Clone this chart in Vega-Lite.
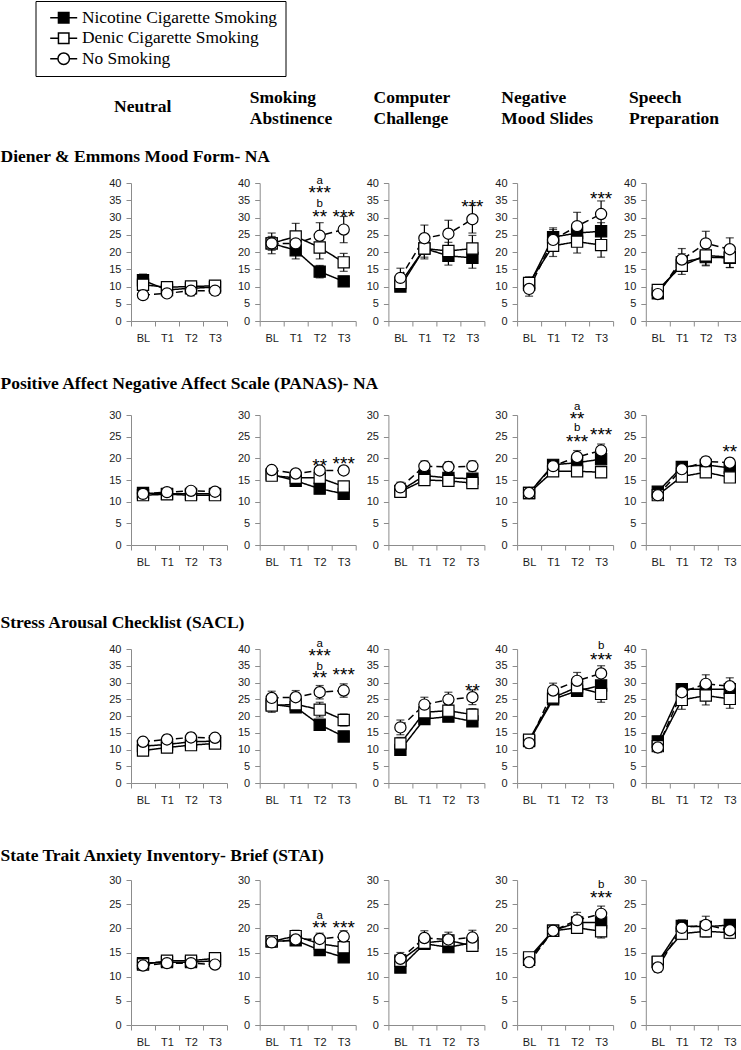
{
"$schema": "https://vega.github.io/schema/vega-lite/v6.json",
"background": "white",
"padding": 0,
"spacing": 10,
"resolve": {"scale": {"shape": "independent", "fill": "independent", "strokeDash": "independent", "stroke": "independent"}},
"config": {
 "view": {"stroke": null},
 "axis": {"labelFont": "Liberation Sans", "labelFontSize": 11, "labelColor": "#1a1a1a", "domainColor": "#8c8c8c", "tickColor": "#8c8c8c", "tickSize": 5, "labelPadding": 5, "grid": false},
 "title": {"font": "Liberation Serif", "fontSize": 17.5, "fontWeight": "bold", "color": "black", "anchor": "start"},
 "text": {"font": "Liberation Sans", "color": "black"}
},
"datasets": {"d": [
{"m":"DE","c":"N","t":"BL","s":"Nicotine Cigarette Smoking","v":11.8,"e":1.8},
{"m":"DE","c":"N","t":"T1","s":"Nicotine Cigarette Smoking","v":9.0,"e":1.3},
{"m":"DE","c":"N","t":"T2","s":"Nicotine Cigarette Smoking","v":9.5,"e":1.3},
{"m":"DE","c":"N","t":"T3","s":"Nicotine Cigarette Smoking","v":9.8,"e":1.5},
{"m":"DE","c":"N","t":"BL","s":"Denic Cigarette Smoking","v":10.5,"e":1.8},
{"m":"DE","c":"N","t":"T1","s":"Denic Cigarette Smoking","v":9.8,"e":1.3},
{"m":"DE","c":"N","t":"T2","s":"Denic Cigarette Smoking","v":10.0,"e":1.2},
{"m":"DE","c":"N","t":"T3","s":"Denic Cigarette Smoking","v":10.2,"e":1.5},
{"m":"DE","c":"N","t":"BL","s":"No Smoking","v":7.5,"e":1.0},
{"m":"DE","c":"N","t":"T1","s":"No Smoking","v":8.0,"e":1.0},
{"m":"DE","c":"N","t":"T2","s":"No Smoking","v":8.8,"e":1.5},
{"m":"DE","c":"N","t":"T3","s":"No Smoking","v":8.8,"e":1.3},
{"m":"DE","c":"SA","t":"BL","s":"Nicotine Cigarette Smoking","v":22.5,"e":1.5},
{"m":"DE","c":"SA","t":"T1","s":"Nicotine Cigarette Smoking","v":20.5,"e":2.5},
{"m":"DE","c":"SA","t":"T2","s":"Nicotine Cigarette Smoking","v":14.3,"e":1.8},
{"m":"DE","c":"SA","t":"T3","s":"Nicotine Cigarette Smoking","v":11.5,"e":1.0},
{"m":"DE","c":"SA","t":"BL","s":"Denic Cigarette Smoking","v":22.5,"e":2.0},
{"m":"DE","c":"SA","t":"T1","s":"Denic Cigarette Smoking","v":24.5,"e":3.8},
{"m":"DE","c":"SA","t":"T2","s":"Denic Cigarette Smoking","v":21.3,"e":3.3},
{"m":"DE","c":"SA","t":"T3","s":"Denic Cigarette Smoking","v":17.0,"e":2.6},
{"m":"DE","c":"SA","t":"BL","s":"No Smoking","v":22.5,"e":3.0},
{"m":"DE","c":"SA","t":"T1","s":"No Smoking","v":22.5,"e":2.5},
{"m":"DE","c":"SA","t":"T2","s":"No Smoking","v":24.7,"e":3.8},
{"m":"DE","c":"SA","t":"T3","s":"No Smoking","v":26.5,"e":3.8},
{"m":"DE","c":"CC","t":"BL","s":"Nicotine Cigarette Smoking","v":10.0,"e":1.2},
{"m":"DE","c":"CC","t":"T1","s":"Nicotine Cigarette Smoking","v":21.0,"e":2.5},
{"m":"DE","c":"CC","t":"T2","s":"Nicotine Cigarette Smoking","v":18.9,"e":2.7},
{"m":"DE","c":"CC","t":"T3","s":"Nicotine Cigarette Smoking","v":18.3,"e":3.0},
{"m":"DE","c":"CC","t":"BL","s":"Denic Cigarette Smoking","v":11.0,"e":1.5},
{"m":"DE","c":"CC","t":"T1","s":"Denic Cigarette Smoking","v":21.0,"e":3.0},
{"m":"DE","c":"CC","t":"T2","s":"Denic Cigarette Smoking","v":20.3,"e":2.5},
{"m":"DE","c":"CC","t":"T3","s":"Denic Cigarette Smoking","v":21.0,"e":3.8},
{"m":"DE","c":"CC","t":"BL","s":"No Smoking","v":12.5,"e":2.8},
{"m":"DE","c":"CC","t":"T1","s":"No Smoking","v":24.0,"e":3.8},
{"m":"DE","c":"CC","t":"T2","s":"No Smoking","v":25.3,"e":3.9},
{"m":"DE","c":"CC","t":"T3","s":"No Smoking","v":29.5,"e":4.0},
{"m":"DE","c":"NM","t":"BL","s":"Nicotine Cigarette Smoking","v":10.5,"e":1.5},
{"m":"DE","c":"NM","t":"T1","s":"Nicotine Cigarette Smoking","v":24.3,"e":2.7},
{"m":"DE","c":"NM","t":"T2","s":"Nicotine Cigarette Smoking","v":25.5,"e":3.0},
{"m":"DE","c":"NM","t":"T3","s":"Nicotine Cigarette Smoking","v":26.0,"e":2.5},
{"m":"DE","c":"NM","t":"BL","s":"Denic Cigarette Smoking","v":11.0,"e":1.8},
{"m":"DE","c":"NM","t":"T1","s":"Denic Cigarette Smoking","v":21.8,"e":3.1},
{"m":"DE","c":"NM","t":"T2","s":"Denic Cigarette Smoking","v":23.0,"e":3.3},
{"m":"DE","c":"NM","t":"T3","s":"Denic Cigarette Smoking","v":22.0,"e":3.5},
{"m":"DE","c":"NM","t":"BL","s":"No Smoking","v":9.3,"e":2.1},
{"m":"DE","c":"NM","t":"T1","s":"No Smoking","v":23.5,"e":3.0},
{"m":"DE","c":"NM","t":"T2","s":"No Smoking","v":27.5,"e":4.0},
{"m":"DE","c":"NM","t":"T3","s":"No Smoking","v":31.0,"e":3.8},
{"m":"DE","c":"SP","t":"BL","s":"Nicotine Cigarette Smoking","v":8.0,"e":1.0},
{"m":"DE","c":"SP","t":"T1","s":"Nicotine Cigarette Smoking","v":17.0,"e":2.5},
{"m":"DE","c":"SP","t":"T2","s":"Nicotine Cigarette Smoking","v":18.5,"e":2.5},
{"m":"DE","c":"SP","t":"T3","s":"Nicotine Cigarette Smoking","v":18.3,"e":2.8},
{"m":"DE","c":"SP","t":"BL","s":"Denic Cigarette Smoking","v":9.0,"e":1.0},
{"m":"DE","c":"SP","t":"T1","s":"Denic Cigarette Smoking","v":16.0,"e":2.5},
{"m":"DE","c":"SP","t":"T2","s":"Denic Cigarette Smoking","v":19.0,"e":2.8},
{"m":"DE","c":"SP","t":"T3","s":"Denic Cigarette Smoking","v":18.5,"e":3.0},
{"m":"DE","c":"SP","t":"BL","s":"No Smoking","v":7.8,"e":1.0},
{"m":"DE","c":"SP","t":"T1","s":"No Smoking","v":17.8,"e":3.2},
{"m":"DE","c":"SP","t":"T2","s":"No Smoking","v":22.5,"e":3.5},
{"m":"DE","c":"SP","t":"T3","s":"No Smoking","v":20.8,"e":3.3},
{"m":"PA","c":"N","t":"BL","s":"Nicotine Cigarette Smoking","v":12.0,"e":0.7},
{"m":"PA","c":"N","t":"T1","s":"Nicotine Cigarette Smoking","v":11.8,"e":0.7},
{"m":"PA","c":"N","t":"T2","s":"Nicotine Cigarette Smoking","v":11.8,"e":0.7},
{"m":"PA","c":"N","t":"T3","s":"Nicotine Cigarette Smoking","v":11.8,"e":0.7},
{"m":"PA","c":"N","t":"BL","s":"Denic Cigarette Smoking","v":11.5,"e":0.6},
{"m":"PA","c":"N","t":"T1","s":"Denic Cigarette Smoking","v":11.7,"e":0.6},
{"m":"PA","c":"N","t":"T2","s":"Denic Cigarette Smoking","v":11.5,"e":0.6},
{"m":"PA","c":"N","t":"T3","s":"Denic Cigarette Smoking","v":11.5,"e":0.6},
{"m":"PA","c":"N","t":"BL","s":"No Smoking","v":11.8,"e":0.6},
{"m":"PA","c":"N","t":"T1","s":"No Smoking","v":12.2,"e":0.6},
{"m":"PA","c":"N","t":"T2","s":"No Smoking","v":12.5,"e":0.6},
{"m":"PA","c":"N","t":"T3","s":"No Smoking","v":12.3,"e":0.6},
{"m":"PA","c":"SA","t":"BL","s":"Nicotine Cigarette Smoking","v":16.3,"e":0.8},
{"m":"PA","c":"SA","t":"T1","s":"Nicotine Cigarette Smoking","v":14.8,"e":0.8},
{"m":"PA","c":"SA","t":"T2","s":"Nicotine Cigarette Smoking","v":13.0,"e":0.8},
{"m":"PA","c":"SA","t":"T3","s":"Nicotine Cigarette Smoking","v":11.8,"e":0.8},
{"m":"PA","c":"SA","t":"BL","s":"Denic Cigarette Smoking","v":16.0,"e":1.0},
{"m":"PA","c":"SA","t":"T1","s":"Denic Cigarette Smoking","v":15.5,"e":1.0},
{"m":"PA","c":"SA","t":"T2","s":"Denic Cigarette Smoking","v":15.5,"e":1.0},
{"m":"PA","c":"SA","t":"T3","s":"Denic Cigarette Smoking","v":13.5,"e":1.0},
{"m":"PA","c":"SA","t":"BL","s":"No Smoking","v":17.3,"e":0.9},
{"m":"PA","c":"SA","t":"T1","s":"No Smoking","v":16.5,"e":0.9},
{"m":"PA","c":"SA","t":"T2","s":"No Smoking","v":17.2,"e":0.9},
{"m":"PA","c":"SA","t":"T3","s":"No Smoking","v":17.2,"e":0.9},
{"m":"PA","c":"CC","t":"BL","s":"Nicotine Cigarette Smoking","v":12.5,"e":1.0},
{"m":"PA","c":"CC","t":"T1","s":"Nicotine Cigarette Smoking","v":16.0,"e":1.0},
{"m":"PA","c":"CC","t":"T2","s":"Nicotine Cigarette Smoking","v":15.5,"e":1.0},
{"m":"PA","c":"CC","t":"T3","s":"Nicotine Cigarette Smoking","v":15.3,"e":1.0},
{"m":"PA","c":"CC","t":"BL","s":"Denic Cigarette Smoking","v":12.3,"e":1.0},
{"m":"PA","c":"CC","t":"T1","s":"Denic Cigarette Smoking","v":15.0,"e":1.0},
{"m":"PA","c":"CC","t":"T2","s":"Denic Cigarette Smoking","v":14.8,"e":1.0},
{"m":"PA","c":"CC","t":"T3","s":"Denic Cigarette Smoking","v":14.3,"e":1.0},
{"m":"PA","c":"CC","t":"BL","s":"No Smoking","v":13.3,"e":1.2},
{"m":"PA","c":"CC","t":"T1","s":"No Smoking","v":18.2,"e":1.2},
{"m":"PA","c":"CC","t":"T2","s":"No Smoking","v":18.0,"e":1.2},
{"m":"PA","c":"CC","t":"T3","s":"No Smoking","v":18.2,"e":1.2},
{"m":"PA","c":"NM","t":"BL","s":"Nicotine Cigarette Smoking","v":12.0,"e":1.0},
{"m":"PA","c":"NM","t":"T1","s":"Nicotine Cigarette Smoking","v":18.5,"e":1.0},
{"m":"PA","c":"NM","t":"T2","s":"Nicotine Cigarette Smoking","v":19.0,"e":1.0},
{"m":"PA","c":"NM","t":"T3","s":"Nicotine Cigarette Smoking","v":19.8,"e":1.0},
{"m":"PA","c":"NM","t":"BL","s":"Denic Cigarette Smoking","v":12.0,"e":1.0},
{"m":"PA","c":"NM","t":"T1","s":"Denic Cigarette Smoking","v":17.0,"e":1.0},
{"m":"PA","c":"NM","t":"T2","s":"Denic Cigarette Smoking","v":17.0,"e":1.0},
{"m":"PA","c":"NM","t":"T3","s":"Denic Cigarette Smoking","v":16.8,"e":1.0},
{"m":"PA","c":"NM","t":"BL","s":"No Smoking","v":12.0,"e":1.0},
{"m":"PA","c":"NM","t":"T1","s":"No Smoking","v":18.2,"e":1.2},
{"m":"PA","c":"NM","t":"T2","s":"No Smoking","v":20.3,"e":1.5},
{"m":"PA","c":"NM","t":"T3","s":"No Smoking","v":21.8,"e":1.5},
{"m":"PA","c":"SP","t":"BL","s":"Nicotine Cigarette Smoking","v":12.3,"e":1.0},
{"m":"PA","c":"SP","t":"T1","s":"Nicotine Cigarette Smoking","v":18.0,"e":1.0},
{"m":"PA","c":"SP","t":"T2","s":"Nicotine Cigarette Smoking","v":18.5,"e":1.0},
{"m":"PA","c":"SP","t":"T3","s":"Nicotine Cigarette Smoking","v":17.8,"e":1.0},
{"m":"PA","c":"SP","t":"BL","s":"Denic Cigarette Smoking","v":11.5,"e":1.0},
{"m":"PA","c":"SP","t":"T1","s":"Denic Cigarette Smoking","v":15.8,"e":1.0},
{"m":"PA","c":"SP","t":"T2","s":"Denic Cigarette Smoking","v":16.8,"e":1.0},
{"m":"PA","c":"SP","t":"T3","s":"Denic Cigarette Smoking","v":15.6,"e":1.0},
{"m":"PA","c":"SP","t":"BL","s":"No Smoking","v":11.5,"e":1.0},
{"m":"PA","c":"SP","t":"T1","s":"No Smoking","v":17.5,"e":1.0},
{"m":"PA","c":"SP","t":"T2","s":"No Smoking","v":19.3,"e":1.0},
{"m":"PA","c":"SP","t":"T3","s":"No Smoking","v":19.0,"e":1.0},
{"m":"SC","c":"N","t":"BL","s":"Nicotine Cigarette Smoking","v":11.0,"e":1.3},
{"m":"SC","c":"N","t":"T1","s":"Nicotine Cigarette Smoking","v":11.5,"e":1.3},
{"m":"SC","c":"N","t":"T2","s":"Nicotine Cigarette Smoking","v":12.3,"e":1.3},
{"m":"SC","c":"N","t":"T3","s":"Nicotine Cigarette Smoking","v":12.5,"e":1.3},
{"m":"SC","c":"N","t":"BL","s":"Denic Cigarette Smoking","v":9.7,"e":1.3},
{"m":"SC","c":"N","t":"T1","s":"Denic Cigarette Smoking","v":10.6,"e":1.3},
{"m":"SC","c":"N","t":"T2","s":"Denic Cigarette Smoking","v":11.3,"e":1.3},
{"m":"SC","c":"N","t":"T3","s":"Denic Cigarette Smoking","v":11.8,"e":1.3},
{"m":"SC","c":"N","t":"BL","s":"No Smoking","v":12.3,"e":1.3},
{"m":"SC","c":"N","t":"T1","s":"No Smoking","v":13.0,"e":1.3},
{"m":"SC","c":"N","t":"T2","s":"No Smoking","v":13.6,"e":1.3},
{"m":"SC","c":"N","t":"T3","s":"No Smoking","v":13.5,"e":1.3},
{"m":"SC","c":"SA","t":"BL","s":"Nicotine Cigarette Smoking","v":23.5,"e":1.2},
{"m":"SC","c":"SA","t":"T1","s":"Nicotine Cigarette Smoking","v":22.6,"e":1.2},
{"m":"SC","c":"SA","t":"T2","s":"Nicotine Cigarette Smoking","v":17.4,"e":1.2},
{"m":"SC","c":"SA","t":"T3","s":"Nicotine Cigarette Smoking","v":13.9,"e":1.2},
{"m":"SC","c":"SA","t":"BL","s":"Denic Cigarette Smoking","v":23.1,"e":2.0},
{"m":"SC","c":"SA","t":"T1","s":"Denic Cigarette Smoking","v":23.5,"e":2.0},
{"m":"SC","c":"SA","t":"T2","s":"Denic Cigarette Smoking","v":21.9,"e":2.2},
{"m":"SC","c":"SA","t":"T3","s":"Denic Cigarette Smoking","v":18.8,"e":1.8},
{"m":"SC","c":"SA","t":"BL","s":"No Smoking","v":25.4,"e":2.0},
{"m":"SC","c":"SA","t":"T1","s":"No Smoking","v":25.6,"e":2.0},
{"m":"SC","c":"SA","t":"T2","s":"No Smoking","v":27.1,"e":2.0},
{"m":"SC","c":"SA","t":"T3","s":"No Smoking","v":27.6,"e":2.0},
{"m":"SC","c":"CC","t":"BL","s":"Nicotine Cigarette Smoking","v":9.9,"e":1.2},
{"m":"SC","c":"CC","t":"T1","s":"Nicotine Cigarette Smoking","v":19.1,"e":1.2},
{"m":"SC","c":"CC","t":"T2","s":"Nicotine Cigarette Smoking","v":19.8,"e":1.2},
{"m":"SC","c":"CC","t":"T3","s":"Nicotine Cigarette Smoking","v":18.4,"e":1.4},
{"m":"SC","c":"CC","t":"BL","s":"Denic Cigarette Smoking","v":11.8,"e":1.8},
{"m":"SC","c":"CC","t":"T1","s":"Denic Cigarette Smoking","v":21.1,"e":1.8},
{"m":"SC","c":"CC","t":"T2","s":"Denic Cigarette Smoking","v":21.6,"e":1.8},
{"m":"SC","c":"CC","t":"T3","s":"Denic Cigarette Smoking","v":20.4,"e":1.8},
{"m":"SC","c":"CC","t":"BL","s":"No Smoking","v":16.6,"e":2.2},
{"m":"SC","c":"CC","t":"T1","s":"No Smoking","v":23.4,"e":2.2},
{"m":"SC","c":"CC","t":"T2","s":"No Smoking","v":24.9,"e":2.2},
{"m":"SC","c":"CC","t":"T3","s":"No Smoking","v":25.6,"e":2.2},
{"m":"SC","c":"NM","t":"BL","s":"Nicotine Cigarette Smoking","v":12.5,"e":1.5},
{"m":"SC","c":"NM","t":"T1","s":"Nicotine Cigarette Smoking","v":25.0,"e":1.5},
{"m":"SC","c":"NM","t":"T2","s":"Nicotine Cigarette Smoking","v":27.5,"e":1.5},
{"m":"SC","c":"NM","t":"T3","s":"Nicotine Cigarette Smoking","v":29.1,"e":1.5},
{"m":"SC","c":"NM","t":"BL","s":"Denic Cigarette Smoking","v":12.9,"e":1.5},
{"m":"SC","c":"NM","t":"T1","s":"Denic Cigarette Smoking","v":25.5,"e":1.8},
{"m":"SC","c":"NM","t":"T2","s":"Denic Cigarette Smoking","v":28.6,"e":2.5},
{"m":"SC","c":"NM","t":"T3","s":"Denic Cigarette Smoking","v":26.6,"e":2.5},
{"m":"SC","c":"NM","t":"BL","s":"No Smoking","v":11.9,"e":1.5},
{"m":"SC","c":"NM","t":"T1","s":"No Smoking","v":27.6,"e":2.2},
{"m":"SC","c":"NM","t":"T2","s":"No Smoking","v":30.5,"e":2.5},
{"m":"SC","c":"NM","t":"T3","s":"No Smoking","v":32.7,"e":2.3},
{"m":"SC","c":"SP","t":"BL","s":"Nicotine Cigarette Smoking","v":12.4,"e":1.5},
{"m":"SC","c":"SP","t":"T1","s":"Nicotine Cigarette Smoking","v":28.0,"e":1.5},
{"m":"SC","c":"SP","t":"T2","s":"Nicotine Cigarette Smoking","v":28.0,"e":1.8},
{"m":"SC","c":"SP","t":"T3","s":"Nicotine Cigarette Smoking","v":28.0,"e":1.8},
{"m":"SC","c":"SP","t":"BL","s":"Denic Cigarette Smoking","v":11.0,"e":1.5},
{"m":"SC","c":"SP","t":"T1","s":"Denic Cigarette Smoking","v":24.8,"e":2.8},
{"m":"SC","c":"SP","t":"T2","s":"Denic Cigarette Smoking","v":26.1,"e":2.8},
{"m":"SC","c":"SP","t":"T3","s":"Denic Cigarette Smoking","v":25.1,"e":2.8},
{"m":"SC","c":"SP","t":"BL","s":"No Smoking","v":10.6,"e":1.5},
{"m":"SC","c":"SP","t":"T1","s":"No Smoking","v":27.1,"e":2.5},
{"m":"SC","c":"SP","t":"T2","s":"No Smoking","v":29.6,"e":2.7},
{"m":"SC","c":"SP","t":"T3","s":"No Smoking","v":28.9,"e":2.5},
{"m":"ST","c":"N","t":"BL","s":"Nicotine Cigarette Smoking","v":12.8,"e":0.7},
{"m":"ST","c":"N","t":"T1","s":"Nicotine Cigarette Smoking","v":13.0,"e":0.7},
{"m":"ST","c":"N","t":"T2","s":"Nicotine Cigarette Smoking","v":13.0,"e":0.7},
{"m":"ST","c":"N","t":"T3","s":"Nicotine Cigarette Smoking","v":13.3,"e":0.7},
{"m":"ST","c":"N","t":"BL","s":"Denic Cigarette Smoking","v":12.5,"e":0.7},
{"m":"ST","c":"N","t":"T1","s":"Denic Cigarette Smoking","v":13.3,"e":0.7},
{"m":"ST","c":"N","t":"T2","s":"Denic Cigarette Smoking","v":13.3,"e":0.7},
{"m":"ST","c":"N","t":"T3","s":"Denic Cigarette Smoking","v":13.8,"e":0.7},
{"m":"ST","c":"N","t":"BL","s":"No Smoking","v":12.3,"e":0.7},
{"m":"ST","c":"N","t":"T1","s":"No Smoking","v":12.8,"e":0.7},
{"m":"ST","c":"N","t":"T2","s":"No Smoking","v":12.8,"e":0.7},
{"m":"ST","c":"N","t":"T3","s":"No Smoking","v":12.5,"e":0.7},
{"m":"ST","c":"SA","t":"BL","s":"Nicotine Cigarette Smoking","v":17.3,"e":0.8},
{"m":"ST","c":"SA","t":"T1","s":"Nicotine Cigarette Smoking","v":17.5,"e":0.8},
{"m":"ST","c":"SA","t":"T2","s":"Nicotine Cigarette Smoking","v":15.5,"e":0.8},
{"m":"ST","c":"SA","t":"T3","s":"Nicotine Cigarette Smoking","v":14.0,"e":0.8},
{"m":"ST","c":"SA","t":"BL","s":"Denic Cigarette Smoking","v":17.3,"e":1.0},
{"m":"ST","c":"SA","t":"T1","s":"Denic Cigarette Smoking","v":18.4,"e":1.2},
{"m":"ST","c":"SA","t":"T2","s":"Denic Cigarette Smoking","v":16.8,"e":1.2},
{"m":"ST","c":"SA","t":"T3","s":"Denic Cigarette Smoking","v":16.1,"e":1.2},
{"m":"ST","c":"SA","t":"BL","s":"No Smoking","v":17.1,"e":1.0},
{"m":"ST","c":"SA","t":"T1","s":"No Smoking","v":17.7,"e":1.2},
{"m":"ST","c":"SA","t":"T2","s":"No Smoking","v":17.8,"e":1.2},
{"m":"ST","c":"SA","t":"T3","s":"No Smoking","v":18.3,"e":1.2},
{"m":"ST","c":"CC","t":"BL","s":"Nicotine Cigarette Smoking","v":11.9,"e":0.8},
{"m":"ST","c":"CC","t":"T1","s":"Nicotine Cigarette Smoking","v":16.8,"e":0.8},
{"m":"ST","c":"CC","t":"T2","s":"Nicotine Cigarette Smoking","v":16.1,"e":0.8},
{"m":"ST","c":"CC","t":"T3","s":"Nicotine Cigarette Smoking","v":17.0,"e":0.8},
{"m":"ST","c":"CC","t":"BL","s":"Denic Cigarette Smoking","v":13.3,"e":1.0},
{"m":"ST","c":"CC","t":"T1","s":"Denic Cigarette Smoking","v":17.0,"e":1.0},
{"m":"ST","c":"CC","t":"T2","s":"Denic Cigarette Smoking","v":17.5,"e":1.0},
{"m":"ST","c":"CC","t":"T3","s":"Denic Cigarette Smoking","v":16.4,"e":1.0},
{"m":"ST","c":"CC","t":"BL","s":"No Smoking","v":13.7,"e":1.3},
{"m":"ST","c":"CC","t":"T1","s":"No Smoking","v":18.0,"e":1.5},
{"m":"ST","c":"CC","t":"T2","s":"No Smoking","v":17.7,"e":1.5},
{"m":"ST","c":"CC","t":"T3","s":"No Smoking","v":18.1,"e":1.5},
{"m":"ST","c":"NM","t":"BL","s":"Nicotine Cigarette Smoking","v":13.5,"e":1.0},
{"m":"ST","c":"NM","t":"T1","s":"Nicotine Cigarette Smoking","v":19.5,"e":1.0},
{"m":"ST","c":"NM","t":"T2","s":"Nicotine Cigarette Smoking","v":21.2,"e":1.0},
{"m":"ST","c":"NM","t":"T3","s":"Nicotine Cigarette Smoking","v":21.2,"e":1.0},
{"m":"ST","c":"NM","t":"BL","s":"Denic Cigarette Smoking","v":14.0,"e":1.0},
{"m":"ST","c":"NM","t":"T1","s":"Denic Cigarette Smoking","v":19.5,"e":1.0},
{"m":"ST","c":"NM","t":"T2","s":"Denic Cigarette Smoking","v":20.1,"e":1.0},
{"m":"ST","c":"NM","t":"T3","s":"Denic Cigarette Smoking","v":19.4,"e":1.4},
{"m":"ST","c":"NM","t":"BL","s":"No Smoking","v":13.0,"e":1.0},
{"m":"ST","c":"NM","t":"T1","s":"No Smoking","v":19.5,"e":1.0},
{"m":"ST","c":"NM","t":"T2","s":"No Smoking","v":21.7,"e":1.6},
{"m":"ST","c":"NM","t":"T3","s":"No Smoking","v":23.0,"e":1.6},
{"m":"ST","c":"SP","t":"BL","s":"Nicotine Cigarette Smoking","v":13.0,"e":1.0},
{"m":"ST","c":"SP","t":"T1","s":"Nicotine Cigarette Smoking","v":20.5,"e":1.2},
{"m":"ST","c":"SP","t":"T2","s":"Nicotine Cigarette Smoking","v":20.3,"e":1.2},
{"m":"ST","c":"SP","t":"T3","s":"Nicotine Cigarette Smoking","v":20.7,"e":1.0},
{"m":"ST","c":"SP","t":"BL","s":"Denic Cigarette Smoking","v":13.1,"e":1.0},
{"m":"ST","c":"SP","t":"T1","s":"Denic Cigarette Smoking","v":18.9,"e":1.2},
{"m":"ST","c":"SP","t":"T2","s":"Denic Cigarette Smoking","v":19.4,"e":1.2},
{"m":"ST","c":"SP","t":"T3","s":"Denic Cigarette Smoking","v":19.1,"e":1.2},
{"m":"ST","c":"SP","t":"BL","s":"No Smoking","v":11.9,"e":1.0},
{"m":"ST","c":"SP","t":"T1","s":"No Smoking","v":20.1,"e":1.6},
{"m":"ST","c":"SP","t":"T2","s":"No Smoking","v":20.7,"e":1.8},
{"m":"ST","c":"SP","t":"T3","s":"No Smoking","v":19.6,"e":1.6},
{"m":"DE","c":"SA","t":"T2","a":"a","ay":40.6},
{"m":"DE","c":"SA","t":"T2","a":"***","ay":38.3},
{"m":"DE","c":"SA","t":"T2","a":"b","ay":34.0},
{"m":"DE","c":"SA","t":"T2","a":"**","ay":31.3},
{"m":"DE","c":"SA","t":"T3","a":"***","ay":31.3},
{"m":"DE","c":"CC","t":"T3","a":"***","ay":34.3},
{"m":"DE","c":"NM","t":"T3","a":"***","ay":36.6},
{"m":"PA","c":"SA","t":"T2","a":"**","ay":19.1},
{"m":"PA","c":"SA","t":"T3","a":"***","ay":19.6},
{"m":"PA","c":"NM","t":"T2","a":"a","ay":31.8},
{"m":"PA","c":"NM","t":"T2","a":"**","ay":30.0},
{"m":"PA","c":"NM","t":"T2","a":"b","ay":26.9},
{"m":"PA","c":"NM","t":"T2","a":"***","ay":24.8},
{"m":"PA","c":"NM","t":"T3","a":"***","ay":26.3},
{"m":"PA","c":"SP","t":"T3","a":"**","ay":22.5},
{"m":"SC","c":"SA","t":"T2","a":"a","ay":41.5},
{"m":"SC","c":"SA","t":"T2","a":"***","ay":39.0},
{"m":"SC","c":"SA","t":"T2","a":"b","ay":34.7},
{"m":"SC","c":"SA","t":"T2","a":"**","ay":32.5},
{"m":"SC","c":"SA","t":"T3","a":"***","ay":33.5},
{"m":"SC","c":"CC","t":"T3","a":"**","ay":28.6},
{"m":"SC","c":"NM","t":"T3","a":"b","ay":41.0},
{"m":"SC","c":"NM","t":"T3","a":"***","ay":38.0},
{"m":"ST","c":"SA","t":"T2","a":"a","ay":22.6},
{"m":"ST","c":"SA","t":"T2","a":"**","ay":20.9},
{"m":"ST","c":"SA","t":"T3","a":"***","ay":20.9},
{"m":"ST","c":"NM","t":"T3","a":"b","ay":29.0},
{"m":"ST","c":"NM","t":"T3","a":"***","ay":27.1}
]},
"vconcat": [
{
 "width": 511, "height": 1,
 "layer": [
  {
   "data": {"values": [{"c":"Neutral"},{"c":"Smoking Abstinence"},{"c":"Computer Challenge"},{"c":"Negative Mood Slides"},{"c":"Speech Preparation"}]},
   "mark": {"type": "point", "opacity": 0},
   "encoding": {"x": {"field": "c", "type": "nominal", "sort": ["Neutral","Smoking Abstinence","Computer Challenge","Negative Mood Slides","Speech Preparation"], "title": null,
     "scale": {"type": "point", "padding": 0},
     "axis": {"orient": "top", "domain": false, "ticks": false, "tickSize": 0, "labelAngle": 0, "labelAlign": "left",
       "labelBaseline": {"condition": {"test": "datum.value == 'Neutral'", "value": "middle"}, "value": "bottom"},
       "labelExpr": "datum.value == 'Neutral' ? ['Neutral', ''] : datum.value == 'Negative Mood Slides' ? ['Negative', 'Mood Slides'] : split(datum.value, ' ')",
       "labelFont": "Liberation Serif", "labelFontSize": 17.5, "labelFontWeight": "bold", "labelColor": "black", "labelLineHeight": 21.6, "labelOverlap": false, "labelLimit": 0, "labelBound": false,
       "labelPadding": 12.7,
       "labelOffset": {"condition": [{"test": "datum.value == 'Neutral'", "value": -17.5}, {"test": "datum.value == 'Smoking Abstinence'", "value": -9.5}], "value": -13.5}}}}
  },
  {
   "data": {"values": [{"s":"Nicotine Cigarette Smoking"},{"s":"Denic Cigarette Smoking"},{"s":"No Smoking"}]},
   "mark": {"type": "point", "filled": true, "opacity": 0},
   "encoding": {
    "shape": {"field": "s", "type": "nominal", "scale": {"domain": ["Nicotine Cigarette Smoking","Denic Cigarette Smoking","No Smoking"], "range": ["M-2.7,0H-1.05M1.05,0H2.7M-1.05,-1.05H1.05V1.05H-1.05Z", "M-2.7,0H-1.05M1.05,0H2.7M-1.05,-1.05H1.05V1.05H-1.05Z", "M-2.7,0H-1.15M1.15,0H2.7M-1.15,0A1.15,1.15,0,1,1,1.15,0A1.15,1.15,0,1,1,-1.15,0Z"]},
     "legend": {"orient": "none", "legendX": -95.5, "legendY": -118, "title": null, "padding": 8, "rowPadding": 1.5, "symbolSize": 100, "symbolOffset": 11.5, "labelOffset": 9.5, "labelLimit": 0, "labelExpr": "datum.label + '   '", "labelFont": "Liberation Serif", "labelFontSize": 17.4, "labelColor": "black", "strokeColor": "black", "fillColor": "white", "symbolStrokeWidth": 1.5, "symbolStrokeColor": "black", "symbolOpacity": 1}},
    "fill": {"field": "s", "type": "nominal", "scale": {"domain": ["Nicotine Cigarette Smoking","Denic Cigarette Smoking","No Smoking"], "range": ["black", "white", "white"]},
     "legend": {"orient": "none", "legendX": -95.5, "legendY": -118, "title": null, "padding": 8, "rowPadding": 1.5, "symbolSize": 100, "symbolOffset": 11.5, "labelOffset": 9.5, "labelLimit": 0, "labelExpr": "datum.label + '   '", "labelFont": "Liberation Serif", "labelFontSize": 17.4, "labelColor": "black", "strokeColor": "black", "fillColor": "white", "symbolStrokeWidth": 1.5, "symbolStrokeColor": "black", "symbolOpacity": 1}},
    "stroke": {"field": "s", "type": "nominal", "scale": {"domain": ["Nicotine Cigarette Smoking","Denic Cigarette Smoking","No Smoking"], "range": ["black", "black", "black"]},
     "legend": {"orient": "none", "legendX": -95.5, "legendY": -118, "title": null, "padding": 8, "rowPadding": 1.5, "symbolSize": 100, "symbolOffset": 11.5, "labelOffset": 9.5, "labelLimit": 0, "labelExpr": "datum.label + '   '", "labelFont": "Liberation Serif", "labelFontSize": 17.4, "labelColor": "black", "strokeColor": "black", "fillColor": "white", "symbolStrokeWidth": 1.5, "symbolStrokeColor": "black", "symbolOpacity": 1}}
   }
  }
 ]
},
{
 "data": {"name": "d"},
 "transform": [{"filter": "datum.m == 'DE'"}],
 "title": {"text": "Diener & Emmons Mood Form- NA", "anchor": "start", "dx": -107.5, "offset": 9.5},
 "facet": {"column": {"field": "c", "type": "nominal", "sort": ["N","SA","CC","NM","SP"], "header": null}},
 "spacing": 8.7,
 "resolve": {"axis": {"x": "independent", "y": "independent"}},
 "spec": {
  "width": 96, "height": 138,
  "encoding": {
   "x": {"field": "t", "type": "nominal", "sort": ["BL","T1","T2","T3"], "title": null, "scale": {"paddingInner": 0, "paddingOuter": 0}, "axis": {"labelAngle": 0, "tickBand": "extent", "minExtent": 42.6, "labelPadding": 6}},
   "y": {"field": "v", "type": "quantitative", "title": null, "scale": {"domain": [0, 40], "nice": false}, "axis": {"values": [0,5,10,15,20,25,30,35,40], "minExtent": 23, "maxExtent": 23}}
  },
  "layer": [
   {"transform": [{"filter": "isValid(datum.v)"}], "mark": {"type": "errorbar", "ticks": true, "size": 8, "thickness": 1.2, "color": "black"}, "encoding": {"yError": {"field": "e"}}},
   {"transform": [{"filter": "isValid(datum.v)"}], "mark": {"type": "line", "color": "black", "strokeWidth": 1.5},
    "encoding": {"strokeDash": {"field": "s", "type": "nominal", "scale": {"domain": ["Nicotine Cigarette Smoking","Denic Cigarette Smoking","No Smoking"], "range": [[1,0],[1,0],[7,4]]}, "legend": null}}},
   {"transform": [{"filter": "isValid(datum.v)"}], "mark": {"type": "point", "filled": true, "stroke": "black", "strokeWidth": 1.2, "size": 125, "opacity": 1},
    "encoding": {
     "fill": {"field": "s", "type": "nominal", "scale": {"domain": ["Nicotine Cigarette Smoking","Denic Cigarette Smoking","No Smoking"], "range": ["black","white","white"]}, "legend": null},
     "shape": {"field": "s", "type": "nominal", "scale": {"domain": ["Nicotine Cigarette Smoking","Denic Cigarette Smoking","No Smoking"], "range": ["square","square","circle"]}, "legend": null}
    }},
   {"transform": [{"filter": "isValid(datum.a) && indexof(datum.a, '*') >= 0"}], "mark": {"type": "text", "fontSize": 19, "dy": 4},
    "encoding": {"y": {"field": "ay", "type": "quantitative", "title": null, "scale": {"domain": [0, 40], "nice": false}}, "text": {"field": "a"}}},
   {"transform": [{"filter": "datum.a == 'a' || datum.a == 'b'"}], "mark": {"type": "text", "fontSize": 11.5},
    "encoding": {"y": {"field": "ay", "type": "quantitative", "title": null, "scale": {"domain": [0, 40], "nice": false}}, "text": {"field": "a"}}}
  ]
 }
},
{
 "data": {"name": "d"},
 "transform": [{"filter": "datum.m == 'PA'"}],
 "title": {"text": "Positive Affect Negative Affect Scale (PANAS)- NA", "anchor": "start", "dx": -107.5, "offset": 8.9},
 "facet": {"column": {"field": "c", "type": "nominal", "sort": ["N","SA","CC","NM","SP"], "header": null}},
 "spacing": 8.7,
 "resolve": {"axis": {"x": "independent", "y": "independent"}},
 "spec": {
  "width": 96, "height": 130,
  "encoding": {
   "x": {"field": "t", "type": "nominal", "sort": ["BL","T1","T2","T3"], "title": null, "scale": {"paddingInner": 0, "paddingOuter": 0}, "axis": {"labelAngle": 0, "tickBand": "extent", "minExtent": 57.6, "labelPadding": 6}},
   "y": {"field": "v", "type": "quantitative", "title": null, "scale": {"domain": [0, 30], "nice": false}, "axis": {"values": [0,5,10,15,20,25,30], "minExtent": 23, "maxExtent": 23}}
  },
  "layer": [
   {"transform": [{"filter": "isValid(datum.v)"}], "mark": {"type": "errorbar", "ticks": true, "size": 8, "thickness": 1.2, "color": "black"}, "encoding": {"yError": {"field": "e"}}},
   {"transform": [{"filter": "isValid(datum.v)"}], "mark": {"type": "line", "color": "black", "strokeWidth": 1.5},
    "encoding": {"strokeDash": {"field": "s", "type": "nominal", "scale": {"domain": ["Nicotine Cigarette Smoking","Denic Cigarette Smoking","No Smoking"], "range": [[1,0],[1,0],[7,4]]}, "legend": null}}},
   {"transform": [{"filter": "isValid(datum.v)"}], "mark": {"type": "point", "filled": true, "stroke": "black", "strokeWidth": 1.2, "size": 125, "opacity": 1},
    "encoding": {
     "fill": {"field": "s", "type": "nominal", "scale": {"domain": ["Nicotine Cigarette Smoking","Denic Cigarette Smoking","No Smoking"], "range": ["black","white","white"]}, "legend": null},
     "shape": {"field": "s", "type": "nominal", "scale": {"domain": ["Nicotine Cigarette Smoking","Denic Cigarette Smoking","No Smoking"], "range": ["square","square","circle"]}, "legend": null}
    }},
   {"transform": [{"filter": "isValid(datum.a) && indexof(datum.a, '*') >= 0"}], "mark": {"type": "text", "fontSize": 19, "dy": 4},
    "encoding": {"y": {"field": "ay", "type": "quantitative", "title": null, "scale": {"domain": [0, 30], "nice": false}}, "text": {"field": "a"}}},
   {"transform": [{"filter": "datum.a == 'a' || datum.a == 'b'"}], "mark": {"type": "text", "fontSize": 11.5},
    "encoding": {"y": {"field": "ay", "type": "quantitative", "title": null, "scale": {"domain": [0, 30], "nice": false}}, "text": {"field": "a"}}}
  ]
 }
},
{
 "data": {"name": "d"},
 "transform": [{"filter": "datum.m == 'SC'"}],
 "title": {"text": "Stress Arousal Checklist (SACL)", "anchor": "start", "dx": -107.5, "offset": 6.9},
 "facet": {"column": {"field": "c", "type": "nominal", "sort": ["N","SA","CC","NM","SP"], "header": null}},
 "spacing": 8.7,
 "resolve": {"axis": {"x": "independent", "y": "independent"}},
 "spec": {
  "width": 96, "height": 134,
  "encoding": {
   "x": {"field": "t", "type": "nominal", "sort": ["BL","T1","T2","T3"], "title": null, "scale": {"paddingInner": 0, "paddingOuter": 0}, "axis": {"labelAngle": 0, "tickBand": "extent", "minExtent": 54, "labelPadding": 6}},
   "y": {"field": "v", "type": "quantitative", "title": null, "scale": {"domain": [0, 40], "nice": false}, "axis": {"values": [0,5,10,15,20,25,30,35,40], "minExtent": 23, "maxExtent": 23}}
  },
  "layer": [
   {"transform": [{"filter": "isValid(datum.v)"}], "mark": {"type": "errorbar", "ticks": true, "size": 8, "thickness": 1.2, "color": "black"}, "encoding": {"yError": {"field": "e"}}},
   {"transform": [{"filter": "isValid(datum.v)"}], "mark": {"type": "line", "color": "black", "strokeWidth": 1.5},
    "encoding": {"strokeDash": {"field": "s", "type": "nominal", "scale": {"domain": ["Nicotine Cigarette Smoking","Denic Cigarette Smoking","No Smoking"], "range": [[1,0],[1,0],[7,4]]}, "legend": null}}},
   {"transform": [{"filter": "isValid(datum.v)"}], "mark": {"type": "point", "filled": true, "stroke": "black", "strokeWidth": 1.2, "size": 125, "opacity": 1},
    "encoding": {
     "fill": {"field": "s", "type": "nominal", "scale": {"domain": ["Nicotine Cigarette Smoking","Denic Cigarette Smoking","No Smoking"], "range": ["black","white","white"]}, "legend": null},
     "shape": {"field": "s", "type": "nominal", "scale": {"domain": ["Nicotine Cigarette Smoking","Denic Cigarette Smoking","No Smoking"], "range": ["square","square","circle"]}, "legend": null}
    }},
   {"transform": [{"filter": "isValid(datum.a) && indexof(datum.a, '*') >= 0"}], "mark": {"type": "text", "fontSize": 19, "dy": 4},
    "encoding": {"y": {"field": "ay", "type": "quantitative", "title": null, "scale": {"domain": [0, 40], "nice": false}}, "text": {"field": "a"}}},
   {"transform": [{"filter": "datum.a == 'a' || datum.a == 'b'"}], "mark": {"type": "text", "fontSize": 11.5},
    "encoding": {"y": {"field": "ay", "type": "quantitative", "title": null, "scale": {"domain": [0, 40], "nice": false}}, "text": {"field": "a"}}}
  ]
 }
},
{
 "data": {"name": "d"},
 "transform": [{"filter": "datum.m == 'ST'"}],
 "title": {"text": "State Trait Anxiety Inventory- Brief (STAI)", "anchor": "start", "dx": -107.5, "offset": 9.3},
 "facet": {"column": {"field": "c", "type": "nominal", "sort": ["N","SA","CC","NM","SP"], "header": null}},
 "spacing": 8.7,
 "resolve": {"axis": {"x": "independent", "y": "independent"}},
 "spec": {
  "width": 96, "height": 145,
  "encoding": {
   "x": {"field": "t", "type": "nominal", "sort": ["BL","T1","T2","T3"], "title": null, "scale": {"paddingInner": 0, "paddingOuter": 0}, "axis": {"labelAngle": 0, "tickBand": "extent", "labelPadding": 6}},
   "y": {"field": "v", "type": "quantitative", "title": null, "scale": {"domain": [0, 30], "nice": false}, "axis": {"values": [0,5,10,15,20,25,30], "minExtent": 23, "maxExtent": 23}}
  },
  "layer": [
   {"transform": [{"filter": "isValid(datum.v)"}], "mark": {"type": "errorbar", "ticks": true, "size": 8, "thickness": 1.2, "color": "black"}, "encoding": {"yError": {"field": "e"}}},
   {"transform": [{"filter": "isValid(datum.v)"}], "mark": {"type": "line", "color": "black", "strokeWidth": 1.5},
    "encoding": {"strokeDash": {"field": "s", "type": "nominal", "scale": {"domain": ["Nicotine Cigarette Smoking","Denic Cigarette Smoking","No Smoking"], "range": [[1,0],[1,0],[7,4]]}, "legend": null}}},
   {"transform": [{"filter": "isValid(datum.v)"}], "mark": {"type": "point", "filled": true, "stroke": "black", "strokeWidth": 1.2, "size": 125, "opacity": 1},
    "encoding": {
     "fill": {"field": "s", "type": "nominal", "scale": {"domain": ["Nicotine Cigarette Smoking","Denic Cigarette Smoking","No Smoking"], "range": ["black","white","white"]}, "legend": null},
     "shape": {"field": "s", "type": "nominal", "scale": {"domain": ["Nicotine Cigarette Smoking","Denic Cigarette Smoking","No Smoking"], "range": ["square","square","circle"]}, "legend": null}
    }},
   {"transform": [{"filter": "isValid(datum.a) && indexof(datum.a, '*') >= 0"}], "mark": {"type": "text", "fontSize": 19, "dy": 4},
    "encoding": {"y": {"field": "ay", "type": "quantitative", "title": null, "scale": {"domain": [0, 30], "nice": false}}, "text": {"field": "a"}}},
   {"transform": [{"filter": "datum.a == 'a' || datum.a == 'b'"}], "mark": {"type": "text", "fontSize": 11.5},
    "encoding": {"y": {"field": "ay", "type": "quantitative", "title": null, "scale": {"domain": [0, 30], "nice": false}}, "text": {"field": "a"}}}
  ]
 }
}
]
}
